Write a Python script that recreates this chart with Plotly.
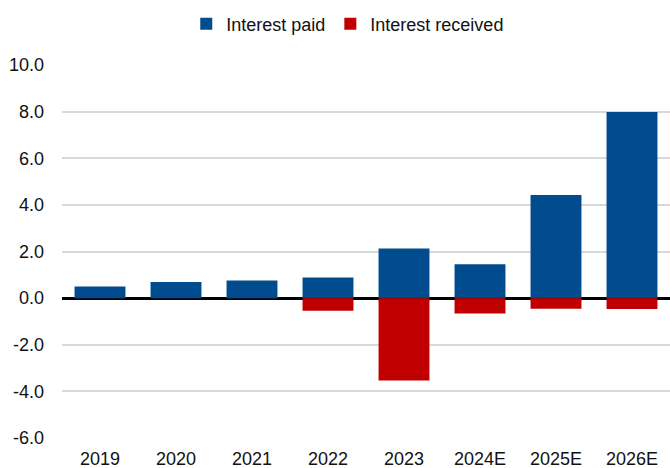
import plotly.graph_objects as go

years = ["2019", "2020", "2021", "2022", "2023", "2024E", "2025E", "2026E"]
interest_paid = [0.50, 0.69, 0.76, 0.89, 2.13, 1.45, 4.42, 7.98]
interest_received = [0.0, 0.0, 0.0, -0.54, -3.53, -0.66, -0.46, -0.47]
y_ticks = [10, 8, 6, 4, 2, 0, -2, -4, -6]

BLUE = "#004C8F"
RED = "#C00000"
FONT = "Liberation Sans, Arial, sans-serif"

fig = go.Figure()
fig.add_trace(go.Bar(
    x=years, y=interest_paid, name="Interest paid",
    marker=dict(color=BLUE, line=dict(width=0)),
))
fig.add_trace(go.Bar(
    x=years, y=interest_received, name="Interest received",
    marker=dict(color=RED, line=dict(width=0)),
))

fig.update_layout(
    width=670, height=468,
    margin=dict(l=62, r=0, t=65, b=30),
    barmode="relative",
    bargap=0.33,
    plot_bgcolor="white",
    paper_bgcolor="white",
    font=dict(family=FONT, size=18, color="#111111"),
    showlegend=True,
    legend=dict(
        orientation="h", x=0.47, xanchor="center", y=1.11, yanchor="middle",
        font=dict(size=18), itemwidth=30, traceorder="normal",
    ),
    xaxis=dict(
        showgrid=False, showline=False, ticks="", ticklabelstandoff=8,
        tickfont=dict(size=18),
    ),
    yaxis=dict(
        range=[-6, 10], tickvals=y_ticks,
        ticktext=[f"{v:.1f}" for v in y_ticks],
        showgrid=True, gridcolor="#D9D9D9", gridwidth=1.5,
        zeroline=True, zerolinecolor="black", zerolinewidth=2.5,
        showline=False, ticks="", ticklabelstandoff=17,
        tickfont=dict(size=18),
    ),
)

fig.write_html("out.html")
